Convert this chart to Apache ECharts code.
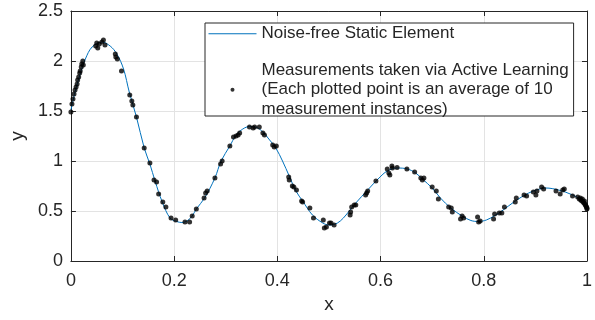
<!DOCTYPE html>
<html>
<head>
<meta charset="utf-8">
<script src="https://cdn.jsdelivr.net/npm/echarts@6/dist/echarts.min.js"></script>
<style>
  html, body { margin: 0; padding: 0; background: #fff; }
  #chart { width: 595px; height: 320px; }
</style>
</head>
<body>
<div id="chart"></div>
<script>
// noise-free curve
const curveX = [0, 0.008, 0.018, 0.028, 0.041, 0.06, 0.076, 0.089, 0.102, 0.113,
  0.127, 0.142, 0.153, 0.163, 0.177, 0.192, 0.205, 0.215, 0.225, 0.235,
  0.243, 0.259, 0.279, 0.291, 0.308, 0.32, 0.333, 0.346, 0.36, 0.372,
  0.385, 0.397, 0.41, 0.423, 0.436, 0.449, 0.468, 0.488, 0.5, 0.51,
  0.522, 0.533, 0.552, 0.575, 0.597, 0.613, 0.632, 0.652, 0.668, 0.681,
  0.7, 0.716, 0.736, 0.758, 0.775, 0.79, 0.805, 0.82, 0.835, 0.861,
  0.887, 0.905, 0.92, 0.945, 0.97, 0.987, 1];
const curveY = [1.51, 1.69, 1.87, 2.02, 2.14, 2.19, 2.15, 2.07, 1.92, 1.69,
  1.44, 1.13, 0.97, 0.8, 0.59, 0.43, 0.395, 0.385, 0.4, 0.45,
  0.52, 0.63, 0.83, 1.0, 1.15, 1.26, 1.32, 1.345, 1.335, 1.29,
  1.21, 1.13, 1.0, 0.85, 0.7, 0.6, 0.46, 0.38, 0.36, 0.365,
  0.4, 0.46, 0.58, 0.71, 0.83, 0.9, 0.93, 0.92, 0.88, 0.82,
  0.73, 0.63, 0.53, 0.45, 0.405, 0.395, 0.41, 0.45, 0.5, 0.6,
  0.68, 0.715, 0.73, 0.71, 0.665, 0.615, 0.54];

// measured points (averages)
const measX = [0, 0.002, 0.004, 0.006, 0.008, 0.01, 0.012, 0.013, 0.015, 0.017,
  0.018, 0.02, 0.021, 0.023, 0.024, 0.048, 0.05, 0.052, 0.055, 0.06,
  0.063, 0.066, 0.086, 0.087, 0.09, 0.098, 0.114, 0.118, 0.12, 0.127,
  0.142, 0.153, 0.161, 0.166, 0.17, 0.178, 0.184, 0.194, 0.203, 0.221,
  0.23, 0.235, 0.243, 0.258, 0.261, 0.264, 0.279, 0.29, 0.293, 0.308,
  0.315, 0.32, 0.324, 0.327, 0.346, 0.353, 0.356, 0.365, 0.372, 0.375,
  0.391, 0.394, 0.398, 0.422, 0.423, 0.429, 0.432, 0.437, 0.447, 0.449,
  0.463, 0.47, 0.489, 0.491, 0.495, 0.501, 0.504, 0.51, 0.541, 0.542,
  0.544, 0.549, 0.552, 0.571, 0.573, 0.575, 0.591, 0.613, 0.616, 0.618,
  0.622, 0.623, 0.632, 0.651, 0.666, 0.678, 0.681, 0.684, 0.7, 0.708,
  0.712, 0.732, 0.737, 0.739, 0.755, 0.758, 0.761, 0.788, 0.79, 0.793,
  0.819, 0.821, 0.83, 0.835, 0.84, 0.861, 0.863, 0.878, 0.883, 0.896,
  0.901, 0.903, 0.912, 0.916, 0.94, 0.948, 0.953, 0.956, 0.972, 0.982,
  0.985, 0.987, 0.988, 0.99, 0.991, 0.993, 0.994, 0.995, 0.996, 0.997,
  0.998, 0.999, 1, 1];
const measY = [1.49, 1.57, 1.62, 1.67, 1.71, 1.74, 1.77, 1.81, 1.84, 1.88,
  1.9, 1.94, 1.97, 2.0, 1.96, 2.15, 2.18, 2.13, 2.17, 2.19,
  2.21, 2.16, 2.07, 2.04, 2.02, 1.9, 1.66, 1.6, 1.56, 1.44,
  1.13, 0.98, 0.81, 0.79, 0.67, 0.59, 0.54, 0.43, 0.41, 0.39,
  0.39, 0.45, 0.52, 0.63, 0.68, 0.7, 0.83, 0.97, 1.0, 1.15,
  1.24, 1.25, 1.26, 1.28, 1.34, 1.33, 1.34, 1.34, 1.28, 1.26,
  1.16, 1.14, 1.15, 0.84, 0.81, 0.75, 0.74, 0.71, 0.6, 0.59,
  0.53, 0.43, 0.41, 0.33, 0.34, 0.38, 0.38, 0.36, 0.46, 0.49,
  0.54, 0.56, 0.56, 0.66, 0.68, 0.7, 0.8, 0.92, 0.88, 0.86,
  0.95, 0.93, 0.935, 0.92, 0.89, 0.83, 0.81, 0.83, 0.74, 0.7,
  0.62, 0.54, 0.53, 0.49, 0.42, 0.45, 0.43, 0.44, 0.39, 0.4,
  0.42, 0.47, 0.48, 0.48, 0.54, 0.59, 0.63, 0.66, 0.65, 0.69,
  0.66, 0.7, 0.74, 0.72, 0.7, 0.67, 0.71, 0.72, 0.65, 0.64,
  0.62, 0.63, 0.61, 0.6, 0.62, 0.59, 0.58, 0.6, 0.57, 0.56,
  0.55, 0.54, 0.53, 0.52];

const xTicks = [0, 0.2, 0.4, 0.6, 0.8, 1];
const yTicks = [0, 0.5, 1, 1.5, 2, 2.5];

const lineName = 'Noise-free Static Element';
const dotName = 'Measurements taken via Active Learning\n(Each plotted point is an average of 10\nmeasurement instances)';

const font = 'Liberation Sans, Arial, sans-serif';
const ink = '#262626';

const chart = echarts.init(document.getElementById('chart'));

// shared axis look (MATLAB style box with inward ticks)
const axisCommon = {
  axisLine: { show: true, onZero: false, lineStyle: { color: ink, width: 1 } },
  axisTick: { show: true, inside: true, length: 5, lineStyle: { color: ink } },
};

const option = {
  animation: false,
  grid: { left: 70, right: 6, top: 11, bottom: 59 },
  legend: {
    orient: 'vertical',
    left: 205,
    top: 23,
    itemWidth: 48,
    itemHeight: 4,
    itemGap: 17,
    padding: [1, 5, -3, 3],
    backgroundColor: '#fff',
    borderColor: ink,
    borderWidth: 1,
    borderRadius: 0,
    lineStyle: { width: 1 },
    textStyle: { fontFamily: font, fontSize: 17, color: ink, lineHeight: 19.5 },
    data: [
      // no marker on the line entry
      { name: lineName, itemStyle: { opacity: 0 } },
      dotName,
    ],
  },
  xAxis: [
    Object.assign({}, axisCommon, {
      type: 'value',
      min: xTicks[0],
      max: xTicks[xTicks.length - 1],
      interval: 0.2,
      position: 'bottom',
      name: 'x',
      nameLocation: 'middle',
      nameGap: 32,
      nameTextStyle: { fontFamily: font, fontSize: 19, color: ink },
      axisLabel: { fontFamily: font, fontSize: 18, color: ink, margin: 11 },
      splitLine: { show: true, lineStyle: { color: '#e3e3e3', width: 1 } },
    }),
    Object.assign({}, axisCommon, {
      type: 'value',
      min: xTicks[0],
      max: xTicks[xTicks.length - 1],
      interval: 0.2,
      position: 'top',
      axisLabel: { show: false },
      splitLine: { show: false },
    }),
  ],
  yAxis: [
    Object.assign({}, axisCommon, {
      type: 'value',
      min: yTicks[0],
      max: yTicks[yTicks.length - 1],
      interval: 0.5,
      position: 'left',
      name: 'y',
      nameLocation: 'middle',
      nameGap: 40,
      nameTextStyle: { fontFamily: font, fontSize: 19, color: ink },
      axisLabel: { fontFamily: font, fontSize: 18, color: ink, margin: 8 },
      splitLine: { show: true, lineStyle: { color: '#e3e3e3', width: 1 } },
    }),
    Object.assign({}, axisCommon, {
      type: 'value',
      min: yTicks[0],
      max: yTicks[yTicks.length - 1],
      interval: 0.5,
      position: 'right',
      axisLabel: { show: false },
      splitLine: { show: false },
    }),
  ],
  series: [
    {
      name: lineName,
      type: 'line',
      smooth: 0.35,
      showSymbol: false,
      symbol: 'none',
      lineStyle: { color: '#0072BD', width: 1 },
      itemStyle: { color: '#0072BD' },
      data: curveX.map((x, i) => [x, curveY[i]]),
      z: 2,
    },
    {
      name: dotName,
      type: 'scatter',
      symbol: 'circle',
      symbolSize: 5,
      itemStyle: { color: '#000' },
      data: measX.map((x, i) => [x, measY[i]]),
      z: 3,
    },
  ],
};

chart.setOption(option);
</script>
</body>
</html>
